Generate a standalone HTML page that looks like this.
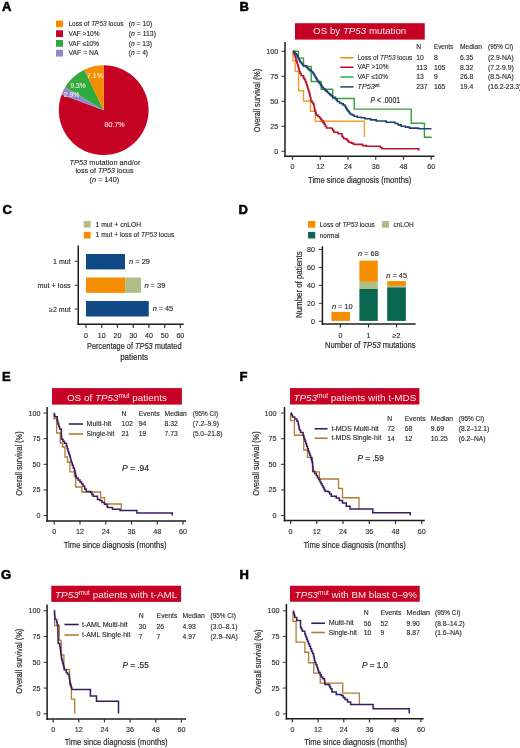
<!DOCTYPE html>
<html><head><meta charset="utf-8"><style>
html,body{margin:0;padding:0;background:#fff;}
svg{display:block;font-family:"Liberation Sans",sans-serif;will-change:transform;}

</style></head><body>
<svg width="520" height="748" viewBox="0 0 520 748" fill="#2b2b2b">
<rect width="520" height="748" fill="#fff"/>
<text x="2" y="11" font-size="13.0" fill="#000" stroke="#000" stroke-width="0.55" font-weight="bold">A</text>
<rect x="56" y="20.5" width="7" height="6.8" fill="#f48d00"/>
<text x="68.5" y="26.4" font-size="6.8" stroke="#2b2b2b" stroke-width="0.13" textLength="55" lengthAdjust="spacingAndGlyphs">Loss of <tspan font-style="italic">TP53</tspan> locus</text>
<text x="128.75" y="26.4" font-size="6.8" stroke="#2b2b2b" stroke-width="0.13" textLength="23.4" lengthAdjust="spacingAndGlyphs">(<tspan font-style="italic">n</tspan> = 10)</text>
<rect x="56" y="30.25" width="7" height="6.8" fill="#c60325"/>
<text x="68.5" y="36" font-size="6.8" stroke="#2b2b2b" stroke-width="0.13" textLength="31" lengthAdjust="spacingAndGlyphs">VAF &gt;10%</text>
<text x="128.75" y="36" font-size="6.8" stroke="#2b2b2b" stroke-width="0.13" textLength="27.2" lengthAdjust="spacingAndGlyphs">(<tspan font-style="italic">n</tspan> = 113)</text>
<rect x="56" y="40" width="7" height="6.8" fill="#31a93c"/>
<text x="68.5" y="45.75" font-size="6.8" stroke="#2b2b2b" stroke-width="0.13" textLength="30.5" lengthAdjust="spacingAndGlyphs">VAF ≤10%</text>
<text x="128.75" y="45.75" font-size="6.8" stroke="#2b2b2b" stroke-width="0.13" textLength="23.3" lengthAdjust="spacingAndGlyphs">(<tspan font-style="italic">n</tspan> = 13)</text>
<rect x="56" y="49.75" width="7" height="6.8" fill="#8f8acb"/>
<text x="68.5" y="55.1" font-size="6.8" stroke="#2b2b2b" stroke-width="0.13" textLength="30" lengthAdjust="spacingAndGlyphs">VAF = NA</text>
<text x="128.75" y="55.1" font-size="6.8" stroke="#2b2b2b" stroke-width="0.13" textLength="19.3" lengthAdjust="spacingAndGlyphs">(<tspan font-style="italic">n</tspan> = 4)</text>
<path d="M103.7,110.2 L103.70,65.30 A44.9,44.9 0 1 1 61.65,94.46 Z" fill="#c60325"/>
<path d="M103.7,110.2 L61.65,94.46 A44.9,44.9 0 0 1 65.20,87.10 Z" fill="#8f8acb"/>
<path d="M103.7,110.2 L65.20,87.10 A44.9,44.9 0 0 1 84.33,69.69 Z" fill="#31a93c"/>
<path d="M103.7,110.2 L84.33,69.69 A44.9,44.9 0 0 1 103.70,65.30 Z" fill="#f48d00"/>
<text x="86.9" y="77.5" font-size="7" fill="#fbe7c0" stroke="#fbe7c0" stroke-width="0.13" textLength="16" lengthAdjust="spacingAndGlyphs">7.1%</text>
<text x="70.6" y="87.75" font-size="7" fill="#e3f2d5" stroke="#e3f2d5" stroke-width="0.13" textLength="15" lengthAdjust="spacingAndGlyphs">9.3%</text>
<text x="63.75" y="97.25" font-size="7" fill="#ece8f6" stroke="#ece8f6" stroke-width="0.13" textLength="15.6" lengthAdjust="spacingAndGlyphs">2.9%</text>
<text x="104.6" y="127" font-size="7" fill="#fbd9dd" stroke="#fbd9dd" stroke-width="0.13" textLength="20" lengthAdjust="spacingAndGlyphs">80.7%</text>
<text x="105" y="164.5" font-size="7.3" text-anchor="middle" stroke="#2b2b2b" stroke-width="0.13" textLength="70.8" lengthAdjust="spacingAndGlyphs"><tspan font-style="italic">TP53</tspan> mutation and/or</text>
<text x="104.5" y="173.3" font-size="7.3" text-anchor="middle" stroke="#2b2b2b" stroke-width="0.13" textLength="58" lengthAdjust="spacingAndGlyphs">loss of <tspan font-style="italic">TP53</tspan> locus</text>
<text x="104.4" y="181.8" font-size="7.3" text-anchor="middle" stroke="#2b2b2b" stroke-width="0.13" textLength="29.6" lengthAdjust="spacingAndGlyphs">(<tspan font-style="italic">n</tspan> = 140)</text>
<text x="239.4" y="11" font-size="13.0" fill="#000" stroke="#000" stroke-width="0.55" font-weight="bold">B</text>
<rect x="295" y="23.2" width="129.75" height="16.4" fill="#c60325"/>
<text x="313.1" y="34.3" font-size="9.8" fill="#fbeaec" textLength="93.2" lengthAdjust="spacingAndGlyphs">OS by <tspan font-style="italic">TP53</tspan> mutation</text>
<line x1="285" y1="41.9" x2="285" y2="157.0" stroke="#1c1c1c" stroke-width="1.5"/>
<line x1="281.4" y1="51.25" x2="285" y2="51.25" stroke="#1c1c1c" stroke-width="0.9"/>
<text x="278.3" y="53.75" font-size="7.2" text-anchor="end" stroke="#2b2b2b" stroke-width="0.13">100</text>
<line x1="281.4" y1="76.25" x2="285" y2="76.25" stroke="#1c1c1c" stroke-width="0.9"/>
<text x="278.3" y="78.75" font-size="7.2" text-anchor="end" stroke="#2b2b2b" stroke-width="0.13">75</text>
<line x1="281.4" y1="101.25" x2="285" y2="101.25" stroke="#1c1c1c" stroke-width="0.9"/>
<text x="278.3" y="103.75" font-size="7.2" text-anchor="end" stroke="#2b2b2b" stroke-width="0.13">50</text>
<line x1="281.4" y1="126.25" x2="285" y2="126.25" stroke="#1c1c1c" stroke-width="0.9"/>
<text x="278.3" y="128.75" font-size="7.2" text-anchor="end" stroke="#2b2b2b" stroke-width="0.13">25</text>
<line x1="281.4" y1="151.25" x2="285" y2="151.25" stroke="#1c1c1c" stroke-width="0.9"/>
<text x="278.3" y="153.75" font-size="7.2" text-anchor="end" stroke="#2b2b2b" stroke-width="0.13">0</text>
<line x1="284.25" y1="156.25" x2="434.4" y2="156.25" stroke="#1c1c1c" stroke-width="1.5"/>
<line x1="292.5" y1="156.25" x2="292.5" y2="159.75" stroke="#333" stroke-width="1.2"/>
<text x="292.5" y="169.4" font-size="7.2" text-anchor="middle" stroke="#2b2b2b" stroke-width="0.13">0</text>
<line x1="320.25" y1="156.25" x2="320.25" y2="159.75" stroke="#333" stroke-width="1.2"/>
<text x="320.25" y="169.4" font-size="7.2" text-anchor="middle" stroke="#2b2b2b" stroke-width="0.13">12</text>
<line x1="348.0" y1="156.25" x2="348.0" y2="159.75" stroke="#333" stroke-width="1.2"/>
<text x="348.0" y="169.4" font-size="7.2" text-anchor="middle" stroke="#2b2b2b" stroke-width="0.13">24</text>
<line x1="375.75" y1="156.25" x2="375.75" y2="159.75" stroke="#333" stroke-width="1.2"/>
<text x="375.75" y="169.4" font-size="7.2" text-anchor="middle" stroke="#2b2b2b" stroke-width="0.13">36</text>
<line x1="403.5" y1="156.25" x2="403.5" y2="159.75" stroke="#333" stroke-width="1.2"/>
<text x="403.5" y="169.4" font-size="7.2" text-anchor="middle" stroke="#2b2b2b" stroke-width="0.13">48</text>
<line x1="431.25" y1="156.25" x2="431.25" y2="159.75" stroke="#333" stroke-width="1.2"/>
<text x="431.25" y="169.4" font-size="7.2" text-anchor="middle" stroke="#2b2b2b" stroke-width="0.13">60</text>
<text x="308" y="182.7" font-size="9.4" stroke="#2b2b2b" stroke-width="0.2" textLength="103.3" lengthAdjust="spacingAndGlyphs">Time since diagnosis (months)</text>
<text x="0" y="0" font-size="9.4" stroke="#2b2b2b" stroke-width="0.2" text-anchor="middle" textLength="63.5" lengthAdjust="spacingAndGlyphs" transform="translate(260.2,100.45) rotate(-90)">Overall survival (%)</text>
<line x1="340.25" y1="57.75" x2="353.5" y2="57.75" stroke="#f48d00" stroke-width="1.5"/>
<text x="357.5" y="59.85" font-size="6.8" stroke="#2b2b2b" stroke-width="0.13" textLength="54.8" lengthAdjust="spacingAndGlyphs">Loss of <tspan font-style="italic">TP53</tspan> locus</text>
<line x1="340.25" y1="67.25" x2="353.5" y2="67.25" stroke="#c60325" stroke-width="1.5"/>
<text x="357.5" y="69.35" font-size="6.8" stroke="#2b2b2b" stroke-width="0.13" textLength="31" lengthAdjust="spacingAndGlyphs">VAF &gt;10%</text>
<line x1="340.25" y1="77" x2="353.5" y2="77" stroke="#31a93c" stroke-width="1.5"/>
<text x="357.5" y="79.1" font-size="6.8" stroke="#2b2b2b" stroke-width="0.13" textLength="30.5" lengthAdjust="spacingAndGlyphs">VAF ≤10%</text>
<line x1="340.25" y1="86.9" x2="353.5" y2="86.9" stroke="#1c4270" stroke-width="1.5"/>
<text x="357.5" y="89.0" font-size="6.8" stroke="#2b2b2b" stroke-width="0.13" textLength="22" lengthAdjust="spacingAndGlyphs"><tspan font-style="italic">TP53</tspan><tspan font-size="4.5" dy="-2.5">wt</tspan></text>
<text x="416.25" y="49.25" font-size="6.8" stroke="#2b2b2b" stroke-width="0.13" textLength="4.8" lengthAdjust="spacingAndGlyphs">N</text>
<text x="434" y="49.25" font-size="6.8" stroke="#2b2b2b" stroke-width="0.13" textLength="19.1" lengthAdjust="spacingAndGlyphs">Events</text>
<text x="460" y="49.25" font-size="6.8" stroke="#2b2b2b" stroke-width="0.13" textLength="21.9" lengthAdjust="spacingAndGlyphs">Median</text>
<text x="488.1" y="49.25" font-size="6.8" stroke="#2b2b2b" stroke-width="0.13" textLength="25" lengthAdjust="spacingAndGlyphs">(95% CI)</text>
<text x="416.25" y="59.9" font-size="6.8" stroke="#2b2b2b" stroke-width="0.13">10</text>
<text x="434" y="59.9" font-size="6.8" stroke="#2b2b2b" stroke-width="0.13">8</text>
<text x="460" y="59.9" font-size="6.8" stroke="#2b2b2b" stroke-width="0.13">6.35</text>
<text x="488.1" y="59.9" font-size="6.8" stroke="#2b2b2b" stroke-width="0.13">(2.9-NA)</text>
<text x="416.25" y="69.7" font-size="6.8" stroke="#2b2b2b" stroke-width="0.13">113</text>
<text x="434" y="69.7" font-size="6.8" stroke="#2b2b2b" stroke-width="0.13">105</text>
<text x="460" y="69.7" font-size="6.8" stroke="#2b2b2b" stroke-width="0.13">8.32</text>
<text x="488.1" y="69.7" font-size="6.8" stroke="#2b2b2b" stroke-width="0.13">(7.2-9.9)</text>
<text x="416.25" y="79.4" font-size="6.8" stroke="#2b2b2b" stroke-width="0.13">13</text>
<text x="434" y="79.4" font-size="6.8" stroke="#2b2b2b" stroke-width="0.13">9</text>
<text x="460" y="79.4" font-size="6.8" stroke="#2b2b2b" stroke-width="0.13">26.8</text>
<text x="488.1" y="79.4" font-size="6.8" stroke="#2b2b2b" stroke-width="0.13">(8.5-NA)</text>
<text x="416.25" y="89" font-size="6.8" stroke="#2b2b2b" stroke-width="0.13">237</text>
<text x="434" y="89" font-size="6.8" stroke="#2b2b2b" stroke-width="0.13">165</text>
<text x="460" y="89" font-size="6.8" stroke="#2b2b2b" stroke-width="0.13">19.4</text>
<text x="488.1" y="89" font-size="6.8" stroke="#2b2b2b" stroke-width="0.13">(16.2-23.3)</text>
<text x="370.6" y="102.75" font-size="8.9" stroke="#2b2b2b" stroke-width="0.2" textLength="29.4" lengthAdjust="spacingAndGlyphs"><tspan font-style="italic">P</tspan> &lt; .0001</text>
<path d="M292.9,51.25 V60.8 H295.2 V71.2 H298.6 V90.7 H303.5 V101 H310.4 V111.3 H315.3 V121.2 H364.4 V136.9" fill="none" stroke="#efa02c" stroke-width="1.4" stroke-linejoin="miter" />
<path d="M292.9,51.25 H298.5 V58.1 H303.5 V66.5 H311.2 V81.5 H321.2 V89.2 H332.7 V98.5 H354.2 V109.1 H411.25 V123.2 H424.4 V137.3 H431.7" fill="none" stroke="#3a9d3c" stroke-width="1.4" stroke-linejoin="miter" />
<path d="M292.9,51.25 H293.60 V53.00 H294.30 V54.75 H295.00 V56.50 H295.50 V58.17 H296.00 V59.83 H296.50 V61.50 H297.00 V63.17 H297.50 V64.83 H298.00 V66.50 H298.50 V68.25 H299.00 V70.00 H299.50 V71.75 H300.00 V73.50 H301.20 V75.80 H303.50 V78.10 H304.45 V79.80 H305.40 V81.50 H306.03 V83.30 H306.67 V85.10 H307.30 V86.90 H307.80 V88.50 H308.30 V90.10 H308.80 V91.70 H309.30 V93.30 H309.80 V94.90 H310.10 V96.35 H310.40 V97.80 H310.70 V99.25 H311.00 V100.70 H311.93 V102.23 H312.87 V103.77 H313.80 V105.30 H314.10 V106.75 H314.40 V108.20 H314.70 V109.65 H315.00 V111.10 H315.60 V113.10 H316.20 V115.10 H317.90 V116.55 H319.60 V118.00 H320.77 V119.53 H321.93 V121.07 H323.10 V122.60 H324.23 V124.40 H325.37 V126.20 H326.50 V128.00 H331.50 V128.50 H332.65 V130.40 H333.80 V132.30 H338.00 V133.80 H342.00 V136.20 H342.90 V137.50 H343.80 V138.80 H346.50 V139.60 H347.65 V140.95 H348.80 V142.30 H351.25 V143.10 H353.50 V144.20 H355.00 V144.40 H362.50 V145.60 H366.25 V146.25 L378.75,146.25 H380.32 V147.50 H381.90 V148.75 L418.75,148.75 L418.75,150.6" fill="none" stroke="#b8142f" stroke-width="1.6" stroke-linejoin="miter" />
<path d="M292.9,51.25 H294.10 V52.50 H295.30 V53.75 H296.50 V55.00 H297.15 V56.22 H297.80 V57.43 H298.45 V58.65 H299.10 V59.87 H299.75 V61.08 H300.40 V62.30 H301.43 V63.47 H302.47 V64.63 H303.50 V65.80 H306.50 V67.30 H307.53 V68.33 H308.57 V69.37 H309.60 V70.40 H311.15 V71.55 H312.70 V72.70 H313.48 V74.05 H314.25 V75.40 H315.02 V76.75 H315.80 V78.10 H316.53 V79.23 H317.27 V80.37 H318.00 V81.50 H318.80 V82.53 H319.60 V83.57 H320.40 V84.60 H321.17 V85.65 H321.95 V86.70 H322.73 V87.75 H323.50 V88.80 H324.77 V89.97 H326.03 V91.13 H327.30 V92.30 H328.45 V93.45 H329.60 V94.60 H331.15 V95.95 H332.70 V97.30 H335.40 V98.80 H336.35 V100.15 H337.30 V101.50 H339.60 V103.00 H341.50 V103.80 H343.25 V105.15 H345.00 V106.50 H345.77 V107.80 H346.53 V109.10 H347.30 V110.40 H348.33 V111.67 H349.37 V112.93 H350.40 V114.20 H352.30 V115.20 H354.20 V116.20 H357.30 V117.30 H361.20 V117.70 H365.00 V118.80 H370.62 V119.90 H376.25 V121.00 H386.25 V122.25 H395.00 V123.50 H398.12 V124.88 H401.25 V126.25 H405.43 V127.17 H409.60 V128.10 L417.1,128.1 H418.30 V128.70 L431.5,128.7" fill="none" stroke="#1c4270" stroke-width="1.6" stroke-linejoin="miter" />
<text x="2.5" y="214" font-size="13.0" fill="#000" stroke="#000" stroke-width="0.55" font-weight="bold">C</text>
<rect x="83.75" y="221" width="6.9" height="6.6" fill="#adbe86"/>
<rect x="83.75" y="231.9" width="6.9" height="6.6" fill="#f48d00"/>
<text x="95.6" y="226.6" font-size="6.8" stroke="#2b2b2b" stroke-width="0.13" textLength="45.6" lengthAdjust="spacingAndGlyphs">1 mut + cnLOH</text>
<text x="95.6" y="237.2" font-size="6.8" stroke="#2b2b2b" stroke-width="0.13" textLength="78.8" lengthAdjust="spacingAndGlyphs">1 mut + loss of <tspan font-style="italic">TP53</tspan> locus</text>
<line x1="78.25" y1="245.6" x2="78.25" y2="324.95" stroke="#1c1c1c" stroke-width="1.5"/>
<line x1="74.6" y1="261.25" x2="78.1" y2="261.25" stroke="#1c1c1c" stroke-width="0.9"/>
<text x="70.6" y="263.75" font-size="6.8" text-anchor="end" stroke="#2b2b2b" stroke-width="0.13" textLength="17.5" lengthAdjust="spacingAndGlyphs">1 mut</text>
<line x1="74.6" y1="285.25" x2="78.1" y2="285.25" stroke="#1c1c1c" stroke-width="0.9"/>
<text x="70.6" y="287.75" font-size="6.8" text-anchor="end" stroke="#2b2b2b" stroke-width="0.13" textLength="33" lengthAdjust="spacingAndGlyphs">mut + loss</text>
<line x1="74.6" y1="309" x2="78.1" y2="309" stroke="#1c1c1c" stroke-width="0.9"/>
<text x="70.6" y="311.5" font-size="6.8" text-anchor="end" stroke="#2b2b2b" stroke-width="0.13" textLength="21.5" lengthAdjust="spacingAndGlyphs">≥2 mut</text>
<rect x="86" y="254" width="39" height="15.4" fill="#0f4a86"/>
<rect x="86" y="277.5" width="39.6" height="15.3" fill="#f48d00"/>
<rect x="125.6" y="277.5" width="15.4" height="15.3" fill="#adbe86"/>
<rect x="86" y="301" width="62.75" height="15.5" fill="#0f4a86"/>
<text x="129" y="263.75" font-size="6.8" stroke="#2b2b2b" stroke-width="0.13" textLength="21" lengthAdjust="spacingAndGlyphs"><tspan font-style="italic">n</tspan> = 29</text>
<text x="144.4" y="287.6" font-size="6.8" stroke="#2b2b2b" stroke-width="0.13" textLength="21" lengthAdjust="spacingAndGlyphs"><tspan font-style="italic">n</tspan> = 39</text>
<text x="152.75" y="311.1" font-size="6.8" stroke="#2b2b2b" stroke-width="0.13" textLength="20.4" lengthAdjust="spacingAndGlyphs"><tspan font-style="italic">n</tspan> = 45</text>
<line x1="77.5" y1="324.2" x2="183.75" y2="324.2" stroke="#1c1c1c" stroke-width="1.5"/>
<line x1="86.0" y1="324.4" x2="86.0" y2="327.9" stroke="#333" stroke-width="1.2"/>
<text x="86.0" y="337.5" font-size="7.1" text-anchor="middle" stroke="#2b2b2b" stroke-width="0.13">0</text>
<line x1="101.73" y1="324.4" x2="101.73" y2="327.9" stroke="#333" stroke-width="1.2"/>
<text x="101.73" y="337.5" font-size="7.1" text-anchor="middle" stroke="#2b2b2b" stroke-width="0.13">10</text>
<line x1="117.46000000000001" y1="324.4" x2="117.46000000000001" y2="327.9" stroke="#333" stroke-width="1.2"/>
<text x="117.46000000000001" y="337.5" font-size="7.1" text-anchor="middle" stroke="#2b2b2b" stroke-width="0.13">20</text>
<line x1="133.19" y1="324.4" x2="133.19" y2="327.9" stroke="#333" stroke-width="1.2"/>
<text x="133.19" y="337.5" font-size="7.1" text-anchor="middle" stroke="#2b2b2b" stroke-width="0.13">30</text>
<line x1="148.92000000000002" y1="324.4" x2="148.92000000000002" y2="327.9" stroke="#333" stroke-width="1.2"/>
<text x="148.92000000000002" y="337.5" font-size="7.1" text-anchor="middle" stroke="#2b2b2b" stroke-width="0.13">40</text>
<line x1="164.65" y1="324.4" x2="164.65" y2="327.9" stroke="#333" stroke-width="1.2"/>
<text x="164.65" y="337.5" font-size="7.1" text-anchor="middle" stroke="#2b2b2b" stroke-width="0.13">50</text>
<line x1="180.38" y1="324.4" x2="180.38" y2="327.9" stroke="#333" stroke-width="1.2"/>
<text x="180.38" y="337.5" font-size="7.1" text-anchor="middle" stroke="#2b2b2b" stroke-width="0.13">60</text>
<text x="87" y="348.8" font-size="9.5" stroke="#2b2b2b" stroke-width="0.2" textLength="94.5" lengthAdjust="spacingAndGlyphs">Percentage of <tspan font-style="italic">TP53</tspan> mutated</text>
<text x="120.2" y="360.2" font-size="9.5" stroke="#2b2b2b" stroke-width="0.2" textLength="27.9" lengthAdjust="spacingAndGlyphs">patients</text>
<text x="238.4" y="214" font-size="13.0" fill="#000" stroke="#000" stroke-width="0.55" font-weight="bold">D</text>
<rect x="308.1" y="221" width="7.1" height="6.7" fill="#f48d00"/>
<rect x="308.1" y="231.9" width="7.1" height="6.6" fill="#0b6650"/>
<rect x="381.9" y="221" width="7.1" height="6.7" fill="#adbe86"/>
<text x="319.75" y="226.9" font-size="6.8" stroke="#2b2b2b" stroke-width="0.13" textLength="55" lengthAdjust="spacingAndGlyphs">Loss of <tspan font-style="italic">TP53</tspan> locus</text>
<text x="319.75" y="237.5" font-size="6.8" stroke="#2b2b2b" stroke-width="0.13" textLength="19.7" lengthAdjust="spacingAndGlyphs">normal</text>
<text x="393.5" y="226.9" font-size="6.8" stroke="#2b2b2b" stroke-width="0.13" textLength="20.2" lengthAdjust="spacingAndGlyphs">cnLOH</text>
<line x1="322.4" y1="246.25" x2="322.4" y2="324.75" stroke="#1c1c1c" stroke-width="1.5"/>
<line x1="318.8" y1="321.25" x2="322.4" y2="321.25" stroke="#1c1c1c" stroke-width="0.9"/>
<text x="314.9" y="323.75" font-size="7.1" text-anchor="end" stroke="#2b2b2b" stroke-width="0.13">0</text>
<line x1="318.8" y1="303.3" x2="322.4" y2="303.3" stroke="#1c1c1c" stroke-width="0.9"/>
<text x="314.9" y="305.8" font-size="7.1" text-anchor="end" stroke="#2b2b2b" stroke-width="0.13">20</text>
<line x1="318.8" y1="285.35" x2="322.4" y2="285.35" stroke="#1c1c1c" stroke-width="0.9"/>
<text x="314.9" y="287.85" font-size="7.1" text-anchor="end" stroke="#2b2b2b" stroke-width="0.13">40</text>
<line x1="318.8" y1="267.4" x2="322.4" y2="267.4" stroke="#1c1c1c" stroke-width="0.9"/>
<text x="314.9" y="269.9" font-size="7.1" text-anchor="end" stroke="#2b2b2b" stroke-width="0.13">60</text>
<line x1="318.8" y1="249.45" x2="322.4" y2="249.45" stroke="#1c1c1c" stroke-width="0.9"/>
<text x="314.9" y="251.95" font-size="7.1" text-anchor="end" stroke="#2b2b2b" stroke-width="0.13">80</text>
<text x="0" y="0" font-size="9.4" stroke="#2b2b2b" stroke-width="0.2" text-anchor="middle" textLength="66.6" lengthAdjust="spacingAndGlyphs" transform="translate(302.2,284.7) rotate(-90)">Number of patients</text>
<rect x="331.5" y="311.9" width="18.5" height="9.0" fill="#f48d00"/>
<rect x="359.4" y="260.6" width="18.35" height="21.3" fill="#f48d00"/>
<rect x="359.4" y="281.9" width="18.35" height="7.1" fill="#adbe86"/>
<rect x="359.4" y="289" width="18.35" height="31.9" fill="#0b6650"/>
<rect x="387.2" y="281.1" width="18.65" height="4.8" fill="#f48d00"/>
<rect x="387.2" y="285.9" width="18.65" height="1.5" fill="#adbe86"/>
<rect x="387.2" y="287.4" width="18.65" height="33.5" fill="#0b6650"/>
<text x="331.9" y="308.75" font-size="6.8" stroke="#2b2b2b" stroke-width="0.13" textLength="20.85" lengthAdjust="spacingAndGlyphs"><tspan font-style="italic">n</tspan> = 10</text>
<text x="358.1" y="256.25" font-size="6.8" stroke="#2b2b2b" stroke-width="0.13" textLength="20.65" lengthAdjust="spacingAndGlyphs"><tspan font-style="italic">n</tspan> = 68</text>
<text x="386.25" y="278.1" font-size="6.8" stroke="#2b2b2b" stroke-width="0.13" textLength="20.85" lengthAdjust="spacingAndGlyphs"><tspan font-style="italic">n</tspan> = 45</text>
<line x1="321.65" y1="324.0" x2="415.6" y2="324.0" stroke="#1c1c1c" stroke-width="1.5"/>
<line x1="340.4" y1="324" x2="340.4" y2="327.5" stroke="#333" stroke-width="1.2"/>
<text x="340.4" y="337.6" font-size="7.1" text-anchor="middle" stroke="#2b2b2b" stroke-width="0.13">0</text>
<line x1="368.5" y1="324" x2="368.5" y2="327.5" stroke="#333" stroke-width="1.2"/>
<text x="368.5" y="337.6" font-size="7.1" text-anchor="middle" stroke="#2b2b2b" stroke-width="0.13">1</text>
<line x1="396.5" y1="324" x2="396.5" y2="327.5" stroke="#333" stroke-width="1.2"/>
<text x="396.5" y="337.6" font-size="7.1" text-anchor="middle" stroke="#2b2b2b" stroke-width="0.13">≥2</text>
<text x="325" y="348.1" font-size="9.4" stroke="#2b2b2b" stroke-width="0.2" textLength="90.6" lengthAdjust="spacingAndGlyphs">Number of <tspan font-style="italic">TP53</tspan> mutations</text>
<text x="2.1" y="381" font-size="13.0" fill="#000" stroke="#000" stroke-width="0.55" font-weight="bold">E</text>
<rect x="52" y="388.1" width="129.9" height="16.5" fill="#c60325"/>
<text x="66.9" y="400.5" font-size="9.8" fill="#fbeaec" textLength="100" lengthAdjust="spacingAndGlyphs">OS of <tspan font-style="italic">TP53</tspan><tspan font-size="6.5" dy="-3.0">mut</tspan><tspan dy="3.0"> </tspan>patients</text>
<line x1="47.1" y1="407" x2="47.1" y2="521.75" stroke="#1c1c1c" stroke-width="1.5"/>
<line x1="43.5" y1="413.04" x2="47.1" y2="413.04" stroke="#1c1c1c" stroke-width="0.9"/>
<text x="40.4" y="415.54" font-size="7.2" text-anchor="end" stroke="#2b2b2b" stroke-width="0.13">100</text>
<line x1="43.5" y1="438.68" x2="47.1" y2="438.68" stroke="#1c1c1c" stroke-width="0.9"/>
<text x="40.4" y="441.18" font-size="7.2" text-anchor="end" stroke="#2b2b2b" stroke-width="0.13">75</text>
<line x1="43.5" y1="464.32000000000005" x2="47.1" y2="464.32000000000005" stroke="#1c1c1c" stroke-width="0.9"/>
<text x="40.4" y="466.82000000000005" font-size="7.2" text-anchor="end" stroke="#2b2b2b" stroke-width="0.13">50</text>
<line x1="43.5" y1="489.96000000000004" x2="47.1" y2="489.96000000000004" stroke="#1c1c1c" stroke-width="0.9"/>
<text x="40.4" y="492.46000000000004" font-size="7.2" text-anchor="end" stroke="#2b2b2b" stroke-width="0.13">25</text>
<line x1="43.5" y1="515.6" x2="47.1" y2="515.6" stroke="#1c1c1c" stroke-width="0.9"/>
<text x="40.4" y="518.1" font-size="7.2" text-anchor="end" stroke="#2b2b2b" stroke-width="0.13">0</text>
<line x1="46.35" y1="521" x2="186.1" y2="521" stroke="#1c1c1c" stroke-width="1.5"/>
<line x1="54.25" y1="521" x2="54.25" y2="524.5" stroke="#333" stroke-width="1.2"/>
<text x="54.25" y="534.3" font-size="7.2" text-anchor="middle" stroke="#2b2b2b" stroke-width="0.13">0</text>
<line x1="80.0" y1="521" x2="80.0" y2="524.5" stroke="#333" stroke-width="1.2"/>
<text x="80.0" y="534.3" font-size="7.2" text-anchor="middle" stroke="#2b2b2b" stroke-width="0.13">12</text>
<line x1="105.75" y1="521" x2="105.75" y2="524.5" stroke="#333" stroke-width="1.2"/>
<text x="105.75" y="534.3" font-size="7.2" text-anchor="middle" stroke="#2b2b2b" stroke-width="0.13">24</text>
<line x1="131.5" y1="521" x2="131.5" y2="524.5" stroke="#333" stroke-width="1.2"/>
<text x="131.5" y="534.3" font-size="7.2" text-anchor="middle" stroke="#2b2b2b" stroke-width="0.13">36</text>
<line x1="157.25" y1="521" x2="157.25" y2="524.5" stroke="#333" stroke-width="1.2"/>
<text x="157.25" y="534.3" font-size="7.2" text-anchor="middle" stroke="#2b2b2b" stroke-width="0.13">48</text>
<line x1="183.0" y1="521" x2="183.0" y2="524.5" stroke="#333" stroke-width="1.2"/>
<text x="183.0" y="534.3" font-size="7.2" text-anchor="middle" stroke="#2b2b2b" stroke-width="0.13">60</text>
<text x="63.75" y="548.1" font-size="9.4" stroke="#2b2b2b" stroke-width="0.2" textLength="102.9" lengthAdjust="spacingAndGlyphs">Time since diagnosis (months)</text>
<text x="0" y="0" font-size="9.4" stroke="#2b2b2b" stroke-width="0.2" text-anchor="middle" textLength="64.3" lengthAdjust="spacingAndGlyphs" transform="translate(22.4,463.5) rotate(-90)">Overall survival (%)</text>
<line x1="68.75" y1="424" x2="83.1" y2="424" stroke="#3b1d5e" stroke-width="1.6"/>
<text x="86.5" y="426.1" font-size="6.8" stroke="#2b2b2b" stroke-width="0.13" textLength="24.8" lengthAdjust="spacingAndGlyphs">Multi-hit</text>
<line x1="68.75" y1="434" x2="83.1" y2="434" stroke="#b27c32" stroke-width="1.6"/>
<text x="86.5" y="436.1" font-size="6.8" stroke="#2b2b2b" stroke-width="0.13" textLength="27.9" lengthAdjust="spacingAndGlyphs">Single-hit</text>
<text x="121.5" y="416.2" font-size="6.8" stroke="#2b2b2b" stroke-width="0.13">N</text>
<text x="138.8" y="416.2" font-size="6.8" stroke="#2b2b2b" stroke-width="0.13">Events</text>
<text x="164.5" y="416.2" font-size="6.8" stroke="#2b2b2b" stroke-width="0.13">Median</text>
<text x="192.75" y="416.2" font-size="6.8" stroke="#2b2b2b" stroke-width="0.13" textLength="25.4" lengthAdjust="spacingAndGlyphs">(95% CI)</text>
<text x="121.5" y="426.2" font-size="6.8" stroke="#2b2b2b" stroke-width="0.13">102</text>
<text x="138.8" y="426.2" font-size="6.8" stroke="#2b2b2b" stroke-width="0.13">94</text>
<text x="164.5" y="426.2" font-size="6.8" stroke="#2b2b2b" stroke-width="0.13">8.32</text>
<text x="192.75" y="426.2" font-size="6.8" stroke="#2b2b2b" stroke-width="0.13" textLength="26.2" lengthAdjust="spacingAndGlyphs">(7.2–9.9)</text>
<text x="121.5" y="436.1" font-size="6.8" stroke="#2b2b2b" stroke-width="0.13">21</text>
<text x="138.8" y="436.1" font-size="6.8" stroke="#2b2b2b" stroke-width="0.13">19</text>
<text x="164.5" y="436.1" font-size="6.8" stroke="#2b2b2b" stroke-width="0.13">7.73</text>
<text x="192.75" y="436.1" font-size="6.8" stroke="#2b2b2b" stroke-width="0.13" textLength="29.6" lengthAdjust="spacingAndGlyphs">(5.0–21.8)</text>
<text x="121.9" y="470.6" font-size="8.9" stroke="#2b2b2b" stroke-width="0.2" textLength="27.1" lengthAdjust="spacingAndGlyphs"><tspan font-style="italic">P</tspan> = .94</text>
<path d="M53.9,413.4 V418.5 H56.7 V433 H60.3 V443 H62.5 V447 H65 V457 H67.5 V462 H69.9 V471.9 H74.4 V476.5 H75.7 V487 H81.9 V492 H100.6 V497.6 H104.5 V504 H121.3 V510" fill="none" stroke="#b27c32" stroke-width="1.3" stroke-linejoin="miter" />
<path d="M54,413.4 H54.40 V415.10 H54.80 V416.80 H57.20 V420.00 H57.60 V422.00 H58.00 V424.00 H58.80 V426.45 H59.60 V428.90 H61.20 V432.00 H61.33 V434.43 H61.47 V436.87 H61.60 V439.30 H63.00 V441.30 H64.40 V443.30 H66.40 V446.10 H67.20 V448.70 H68.00 V451.30 H68.67 V453.17 H69.33 V455.03 H70.00 V456.90 H70.42 V458.77 H70.83 V460.63 H71.25 V462.50 H72.25 V465.25 H73.25 V468.00 H74.40 V470.00 H74.86 V472.02 H75.33 V474.05 H75.79 V476.08 H76.25 V478.10 H78.12 V480.00 H80.00 V481.90 H81.55 V484.07 H83.10 V486.25 H84.67 V488.88 H86.25 V491.50 H90.60 V492.50 H91.85 V494.38 H93.10 V496.25 H97.50 V499.40 H100.00 V500.50 H102.00 V502.50 H104.50 V504.25 H107.00 V506.00 H107.50 V507.50 L111.5,507.5 H112.50 V509.25 L118.5,509.25 H120.00 V510.40 L133.75,510.4 H136.90 V513.10 L172.25,513.1 L172.25,515.6" fill="none" stroke="#3b1d5e" stroke-width="1.5" stroke-linejoin="miter" />
<text x="239.4" y="381" font-size="13.0" fill="#000" stroke="#000" stroke-width="0.55" font-weight="bold">F</text>
<rect x="290" y="388.1" width="129.4" height="16.4" fill="#c60325"/>
<text x="293.5" y="400.5" font-size="9.8" fill="#fbeaec" textLength="122.75" lengthAdjust="spacingAndGlyphs"><tspan font-style="italic">TP53</tspan><tspan font-size="6.5" dy="-3.0">mut</tspan><tspan dy="3.0"> </tspan>patients with t-MDS</text>
<line x1="284.5" y1="407" x2="284.5" y2="521.35" stroke="#1c1c1c" stroke-width="1.5"/>
<line x1="280.9" y1="413.04" x2="284.5" y2="413.04" stroke="#1c1c1c" stroke-width="0.9"/>
<text x="276.6" y="415.54" font-size="7.2" text-anchor="end" stroke="#2b2b2b" stroke-width="0.13">100</text>
<line x1="280.9" y1="438.68" x2="284.5" y2="438.68" stroke="#1c1c1c" stroke-width="0.9"/>
<text x="276.6" y="441.18" font-size="7.2" text-anchor="end" stroke="#2b2b2b" stroke-width="0.13">75</text>
<line x1="280.9" y1="464.32000000000005" x2="284.5" y2="464.32000000000005" stroke="#1c1c1c" stroke-width="0.9"/>
<text x="276.6" y="466.82000000000005" font-size="7.2" text-anchor="end" stroke="#2b2b2b" stroke-width="0.13">50</text>
<line x1="280.9" y1="489.96000000000004" x2="284.5" y2="489.96000000000004" stroke="#1c1c1c" stroke-width="0.9"/>
<text x="276.6" y="492.46000000000004" font-size="7.2" text-anchor="end" stroke="#2b2b2b" stroke-width="0.13">25</text>
<line x1="280.9" y1="515.6" x2="284.5" y2="515.6" stroke="#1c1c1c" stroke-width="0.9"/>
<text x="276.6" y="518.1" font-size="7.2" text-anchor="end" stroke="#2b2b2b" stroke-width="0.13">0</text>
<line x1="283.75" y1="520.6" x2="424.85" y2="520.6" stroke="#1c1c1c" stroke-width="1.5"/>
<line x1="290.6" y1="520.6" x2="290.6" y2="524.1" stroke="#333" stroke-width="1.2"/>
<text x="290.6" y="534.3" font-size="7.2" text-anchor="middle" stroke="#2b2b2b" stroke-width="0.13">0</text>
<line x1="316.83000000000004" y1="520.6" x2="316.83000000000004" y2="524.1" stroke="#333" stroke-width="1.2"/>
<text x="316.83000000000004" y="534.3" font-size="7.2" text-anchor="middle" stroke="#2b2b2b" stroke-width="0.13">12</text>
<line x1="343.06" y1="520.6" x2="343.06" y2="524.1" stroke="#333" stroke-width="1.2"/>
<text x="343.06" y="534.3" font-size="7.2" text-anchor="middle" stroke="#2b2b2b" stroke-width="0.13">24</text>
<line x1="369.29" y1="520.6" x2="369.29" y2="524.1" stroke="#333" stroke-width="1.2"/>
<text x="369.29" y="534.3" font-size="7.2" text-anchor="middle" stroke="#2b2b2b" stroke-width="0.13">36</text>
<line x1="395.52000000000004" y1="520.6" x2="395.52000000000004" y2="524.1" stroke="#333" stroke-width="1.2"/>
<text x="395.52000000000004" y="534.3" font-size="7.2" text-anchor="middle" stroke="#2b2b2b" stroke-width="0.13">48</text>
<line x1="421.75" y1="520.6" x2="421.75" y2="524.1" stroke="#333" stroke-width="1.2"/>
<text x="421.75" y="534.3" font-size="7.2" text-anchor="middle" stroke="#2b2b2b" stroke-width="0.13">60</text>
<text x="303.4" y="548.1" font-size="9.4" stroke="#2b2b2b" stroke-width="0.2" textLength="102.3" lengthAdjust="spacingAndGlyphs">Time since diagnosis (months)</text>
<text x="0" y="0" font-size="9.4" stroke="#2b2b2b" stroke-width="0.2" text-anchor="middle" textLength="64.3" lengthAdjust="spacingAndGlyphs" transform="translate(259.2,463.5) rotate(-90)">Overall survival (%)</text>
<line x1="314.6" y1="428.75" x2="327.6" y2="428.75" stroke="#3b1d5e" stroke-width="1.6"/>
<text x="331.5" y="430.85" font-size="6.8" stroke="#2b2b2b" stroke-width="0.13" textLength="47.3" lengthAdjust="spacingAndGlyphs">t-MDS Multi-hit</text>
<line x1="314.6" y1="438.25" x2="327.6" y2="438.25" stroke="#b27c32" stroke-width="1.6"/>
<text x="331.5" y="440.35" font-size="6.8" stroke="#2b2b2b" stroke-width="0.13" textLength="49.8" lengthAdjust="spacingAndGlyphs">t-MDS Single-hit</text>
<text x="387.25" y="420.5" font-size="6.8" stroke="#2b2b2b" stroke-width="0.13">N</text>
<text x="404.75" y="420.5" font-size="6.8" stroke="#2b2b2b" stroke-width="0.13">Events</text>
<text x="430.75" y="420.5" font-size="6.8" stroke="#2b2b2b" stroke-width="0.13">Median</text>
<text x="458.75" y="420.5" font-size="6.8" stroke="#2b2b2b" stroke-width="0.13" textLength="25.4" lengthAdjust="spacingAndGlyphs">(95% CI)</text>
<text x="387.25" y="431.25" font-size="6.8" stroke="#2b2b2b" stroke-width="0.13">72</text>
<text x="404.75" y="431.25" font-size="6.8" stroke="#2b2b2b" stroke-width="0.13">68</text>
<text x="430.75" y="431.25" font-size="6.8" stroke="#2b2b2b" stroke-width="0.13">9.69</text>
<text x="458.75" y="431.25" font-size="6.8" stroke="#2b2b2b" stroke-width="0.13" textLength="30.4" lengthAdjust="spacingAndGlyphs">(8.2–12.1)</text>
<text x="387.25" y="440.75" font-size="6.8" stroke="#2b2b2b" stroke-width="0.13">14</text>
<text x="404.75" y="440.75" font-size="6.8" stroke="#2b2b2b" stroke-width="0.13">12</text>
<text x="430.75" y="440.75" font-size="6.8" stroke="#2b2b2b" stroke-width="0.13">10.25</text>
<text x="458.75" y="440.75" font-size="6.8" stroke="#2b2b2b" stroke-width="0.13" textLength="26.7" lengthAdjust="spacingAndGlyphs">(6.2–NA)</text>
<text x="357.5" y="460.6" font-size="8.9" stroke="#2b2b2b" stroke-width="0.2" textLength="26.25" lengthAdjust="spacingAndGlyphs"><tspan font-style="italic">P</tspan> = .59</text>
<path d="M290.6,413.1 V420.6 H294.4 V435.25 H303.75 V450 H307.5 V457.4 H312.5 V471.9 H319.4 V479 H338.5 V488.5 H342.5 V497.75 H359 V509" fill="none" stroke="#b27c32" stroke-width="1.3" stroke-linejoin="miter" />
<path d="M290.6,413.1 H291.55 V415.00 H292.50 V416.90 H294.70 V419.07 H296.90 V421.25 H298.10 V423.75 H298.53 V425.83 H298.97 V427.92 H299.40 V430.00 H300.60 V432.50 H303.10 V435.60 H303.73 V437.48 H304.37 V439.37 H305.00 V441.25 H305.83 V443.75 H306.67 V446.25 H307.50 V448.75 H308.27 V450.94 H309.05 V453.12 H309.83 V455.31 H310.60 V457.50 H311.23 V459.58 H311.87 V461.67 H312.50 V463.75 H312.70 V466.25 H312.90 V468.75 H313.10 V471.25 H314.68 V473.43 H316.25 V475.60 H317.50 V477.70 H318.75 V479.80 H320.00 V481.90 H321.03 V483.77 H322.07 V485.63 H323.10 V487.50 H324.05 V489.38 H325.00 V491.25 H328.10 V491.90 H329.68 V494.07 H331.25 V496.25 H336.25 V498.10 H339.38 V500.60 H342.50 V503.10 H346.25 V506.25 H350.00 V509.00 L372.8,509 L372.8,512.7 L410.2,512.7 L410.2,515.5" fill="none" stroke="#3b1d5e" stroke-width="1.5" stroke-linejoin="miter" />
<text x="1" y="578.75" font-size="13.0" fill="#000" stroke="#000" stroke-width="0.55" font-weight="bold">G</text>
<rect x="51.25" y="585.7" width="129.85" height="16.2" fill="#c60325"/>
<text x="55" y="598.1" font-size="9.8" fill="#fbeaec" textLength="122.4" lengthAdjust="spacingAndGlyphs"><tspan font-style="italic">TP53</tspan><tspan font-size="6.5" dy="-3.0">mut</tspan><tspan dy="3.0"> </tspan>patients with t-AML</text>
<line x1="47.1" y1="604.4" x2="47.1" y2="719.65" stroke="#1c1c1c" stroke-width="1.5"/>
<line x1="43.5" y1="610.8" x2="47.1" y2="610.8" stroke="#1c1c1c" stroke-width="0.9"/>
<text x="40.4" y="613.3" font-size="7.2" text-anchor="end" stroke="#2b2b2b" stroke-width="0.13">100</text>
<line x1="43.5" y1="636.55" x2="47.1" y2="636.55" stroke="#1c1c1c" stroke-width="0.9"/>
<text x="40.4" y="639.05" font-size="7.2" text-anchor="end" stroke="#2b2b2b" stroke-width="0.13">75</text>
<line x1="43.5" y1="662.3" x2="47.1" y2="662.3" stroke="#1c1c1c" stroke-width="0.9"/>
<text x="40.4" y="664.8" font-size="7.2" text-anchor="end" stroke="#2b2b2b" stroke-width="0.13">50</text>
<line x1="43.5" y1="688.05" x2="47.1" y2="688.05" stroke="#1c1c1c" stroke-width="0.9"/>
<text x="40.4" y="690.55" font-size="7.2" text-anchor="end" stroke="#2b2b2b" stroke-width="0.13">25</text>
<line x1="43.5" y1="713.8" x2="47.1" y2="713.8" stroke="#1c1c1c" stroke-width="0.9"/>
<text x="40.4" y="716.3" font-size="7.2" text-anchor="end" stroke="#2b2b2b" stroke-width="0.13">0</text>
<line x1="46.35" y1="718.9" x2="186" y2="718.9" stroke="#1c1c1c" stroke-width="1.5"/>
<line x1="53.15" y1="718.9" x2="53.15" y2="722.4" stroke="#333" stroke-width="1.2"/>
<text x="53.15" y="731.7" font-size="7.2" text-anchor="middle" stroke="#2b2b2b" stroke-width="0.13">0</text>
<line x1="78.8" y1="718.9" x2="78.8" y2="722.4" stroke="#333" stroke-width="1.2"/>
<text x="78.8" y="731.7" font-size="7.2" text-anchor="middle" stroke="#2b2b2b" stroke-width="0.13">12</text>
<line x1="104.44999999999999" y1="718.9" x2="104.44999999999999" y2="722.4" stroke="#333" stroke-width="1.2"/>
<text x="104.44999999999999" y="731.7" font-size="7.2" text-anchor="middle" stroke="#2b2b2b" stroke-width="0.13">24</text>
<line x1="130.1" y1="718.9" x2="130.1" y2="722.4" stroke="#333" stroke-width="1.2"/>
<text x="130.1" y="731.7" font-size="7.2" text-anchor="middle" stroke="#2b2b2b" stroke-width="0.13">36</text>
<line x1="155.75" y1="718.9" x2="155.75" y2="722.4" stroke="#333" stroke-width="1.2"/>
<text x="155.75" y="731.7" font-size="7.2" text-anchor="middle" stroke="#2b2b2b" stroke-width="0.13">48</text>
<line x1="181.4" y1="718.9" x2="181.4" y2="722.4" stroke="#333" stroke-width="1.2"/>
<text x="181.4" y="731.7" font-size="7.2" text-anchor="middle" stroke="#2b2b2b" stroke-width="0.13">60</text>
<text x="64.7" y="745.3" font-size="9.4" stroke="#2b2b2b" stroke-width="0.2" textLength="102.9" lengthAdjust="spacingAndGlyphs">Time since diagnosis (months)</text>
<text x="0" y="0" font-size="9.4" stroke="#2b2b2b" stroke-width="0.2" text-anchor="middle" textLength="65" lengthAdjust="spacingAndGlyphs" transform="translate(22.4,661.2) rotate(-90)">Overall survival (%)</text>
<line x1="64.5" y1="624.5" x2="78.75" y2="624.5" stroke="#3b1d5e" stroke-width="1.6"/>
<text x="82" y="626.6" font-size="6.8" stroke="#2b2b2b" stroke-width="0.13" textLength="45.5" lengthAdjust="spacingAndGlyphs">t-AML Multi-hit</text>
<line x1="64.5" y1="635" x2="78.75" y2="635" stroke="#b27c32" stroke-width="1.6"/>
<text x="82" y="637.1" font-size="6.8" stroke="#2b2b2b" stroke-width="0.13" textLength="48.5" lengthAdjust="spacingAndGlyphs">t-AML Single-hit</text>
<text x="138.75" y="618" font-size="6.8" stroke="#2b2b2b" stroke-width="0.13">N</text>
<text x="156.6" y="618" font-size="6.8" stroke="#2b2b2b" stroke-width="0.13">Events</text>
<text x="182.5" y="618" font-size="6.8" stroke="#2b2b2b" stroke-width="0.13">Median</text>
<text x="210.5" y="618" font-size="6.8" stroke="#2b2b2b" stroke-width="0.13" textLength="25.4" lengthAdjust="spacingAndGlyphs">(95% CI)</text>
<text x="138.75" y="628.75" font-size="6.8" stroke="#2b2b2b" stroke-width="0.13">30</text>
<text x="156.6" y="628.75" font-size="6.8" stroke="#2b2b2b" stroke-width="0.13">26</text>
<text x="182.5" y="628.75" font-size="6.8" stroke="#2b2b2b" stroke-width="0.13">4.93</text>
<text x="210.5" y="628.75" font-size="6.8" stroke="#2b2b2b" stroke-width="0.13" textLength="26.9" lengthAdjust="spacingAndGlyphs">(3.0–8.1)</text>
<text x="138.75" y="638.75" font-size="6.8" stroke="#2b2b2b" stroke-width="0.13">7</text>
<text x="156.6" y="638.75" font-size="6.8" stroke="#2b2b2b" stroke-width="0.13">7</text>
<text x="182.5" y="638.75" font-size="6.8" stroke="#2b2b2b" stroke-width="0.13">4.97</text>
<text x="210.5" y="638.75" font-size="6.8" stroke="#2b2b2b" stroke-width="0.13" textLength="27.4" lengthAdjust="spacingAndGlyphs">(2.9–NA)</text>
<text x="122.5" y="668.1" font-size="8.9" stroke="#2b2b2b" stroke-width="0.2" textLength="26.25" lengthAdjust="spacingAndGlyphs"><tspan font-style="italic">P</tspan> = .55</text>
<path d="M54.2,610.8 H54.6 V625.5 H59.3 V640.3 H61.2 V655 H63.9 V669.6 H69.6 V684.3 H71.4 V699.1 H74.7 V713.8" fill="none" stroke="#b27c32" stroke-width="1.3" stroke-linejoin="miter" />
<path d="M54.2,610.6 H54.40 V612.80 H54.60 V615.00 H54.80 V617.20 H55.00 V619.40 H56.60 V622.20 H57.20 V624.85 H57.80 V627.50 H57.86 V629.79 H57.91 V632.07 H57.97 V634.36 H58.03 V636.64 H58.09 V638.93 H58.14 V641.21 H58.20 V643.50 H59.80 V645.90 H60.10 V648.10 H60.40 V650.30 H60.70 V652.50 H61.00 V654.70 H61.27 V656.80 H61.55 V658.90 H62.12 V661.06 H62.69 V663.22 H63.26 V665.38 H63.83 V667.54 H64.40 V669.70 H66.20 V672.50 H67.60 V674.35 H69.00 V676.20 H69.36 V678.55 H69.72 V680.90 H70.09 V683.25 H70.45 V685.60 H71.15 V687.55 H71.85 V689.50 L90.4,689.5 L90.4,696 L96.5,696 L96.5,701.25 L118.5,701.25 L118.5,713.6" fill="none" stroke="#3b1d5e" stroke-width="1.5" stroke-linejoin="miter" />
<text x="239.6" y="578.75" font-size="13.0" fill="#000" stroke="#000" stroke-width="0.55" font-weight="bold">H</text>
<rect x="290" y="585.75" width="129.75" height="16" fill="#c60325"/>
<text x="294.75" y="598.15" font-size="9.8" fill="#fbeaec" textLength="122.15" lengthAdjust="spacingAndGlyphs"><tspan font-style="italic">TP53</tspan><tspan font-size="6.5" dy="-3.0">mut</tspan><tspan dy="3.0"> </tspan>with BM blast 0–9%</text>
<line x1="286.4" y1="604" x2="286.4" y2="719.55" stroke="#1c1c1c" stroke-width="1.5"/>
<line x1="282.79999999999995" y1="610.8" x2="286.4" y2="610.8" stroke="#1c1c1c" stroke-width="0.9"/>
<text x="279.4" y="613.3" font-size="7.2" text-anchor="end" stroke="#2b2b2b" stroke-width="0.13">100</text>
<line x1="282.79999999999995" y1="636.55" x2="286.4" y2="636.55" stroke="#1c1c1c" stroke-width="0.9"/>
<text x="279.4" y="639.05" font-size="7.2" text-anchor="end" stroke="#2b2b2b" stroke-width="0.13">75</text>
<line x1="282.79999999999995" y1="662.3" x2="286.4" y2="662.3" stroke="#1c1c1c" stroke-width="0.9"/>
<text x="279.4" y="664.8" font-size="7.2" text-anchor="end" stroke="#2b2b2b" stroke-width="0.13">50</text>
<line x1="282.79999999999995" y1="688.05" x2="286.4" y2="688.05" stroke="#1c1c1c" stroke-width="0.9"/>
<text x="279.4" y="690.55" font-size="7.2" text-anchor="end" stroke="#2b2b2b" stroke-width="0.13">25</text>
<line x1="282.79999999999995" y1="713.8" x2="286.4" y2="713.8" stroke="#1c1c1c" stroke-width="0.9"/>
<text x="279.4" y="716.3" font-size="7.2" text-anchor="end" stroke="#2b2b2b" stroke-width="0.13">0</text>
<line x1="285.65" y1="718.8" x2="423.6" y2="718.8" stroke="#1c1c1c" stroke-width="1.5"/>
<line x1="292.4" y1="718.8" x2="292.4" y2="722.3" stroke="#333" stroke-width="1.2"/>
<text x="292.4" y="731.8" font-size="7.2" text-anchor="middle" stroke="#2b2b2b" stroke-width="0.13">0</text>
<line x1="318.09999999999997" y1="718.8" x2="318.09999999999997" y2="722.3" stroke="#333" stroke-width="1.2"/>
<text x="318.09999999999997" y="731.8" font-size="7.2" text-anchor="middle" stroke="#2b2b2b" stroke-width="0.13">12</text>
<line x1="343.79999999999995" y1="718.8" x2="343.79999999999995" y2="722.3" stroke="#333" stroke-width="1.2"/>
<text x="343.79999999999995" y="731.8" font-size="7.2" text-anchor="middle" stroke="#2b2b2b" stroke-width="0.13">24</text>
<line x1="369.5" y1="718.8" x2="369.5" y2="722.3" stroke="#333" stroke-width="1.2"/>
<text x="369.5" y="731.8" font-size="7.2" text-anchor="middle" stroke="#2b2b2b" stroke-width="0.13">36</text>
<line x1="395.2" y1="718.8" x2="395.2" y2="722.3" stroke="#333" stroke-width="1.2"/>
<text x="395.2" y="731.8" font-size="7.2" text-anchor="middle" stroke="#2b2b2b" stroke-width="0.13">48</text>
<line x1="420.9" y1="718.8" x2="420.9" y2="722.3" stroke="#333" stroke-width="1.2"/>
<text x="420.9" y="731.8" font-size="7.2" text-anchor="middle" stroke="#2b2b2b" stroke-width="0.13">60</text>
<text x="304.3" y="745.3" font-size="9.4" stroke="#2b2b2b" stroke-width="0.2" textLength="102.8" lengthAdjust="spacingAndGlyphs">Time since diagnosis (months)</text>
<text x="0" y="0" font-size="9.4" stroke="#2b2b2b" stroke-width="0.2" text-anchor="middle" textLength="64.3" lengthAdjust="spacingAndGlyphs" transform="translate(261.3,661.6) rotate(-90)">Overall survival (%)</text>
<line x1="311.25" y1="623.25" x2="325" y2="623.25" stroke="#3b1d5e" stroke-width="1.6"/>
<text x="328.75" y="625.35" font-size="6.8" stroke="#2b2b2b" stroke-width="0.13" textLength="25" lengthAdjust="spacingAndGlyphs">Multi-hit</text>
<line x1="311.25" y1="632.5" x2="325" y2="632.5" stroke="#b27c32" stroke-width="1.6"/>
<text x="328.75" y="634.6" font-size="6.8" stroke="#2b2b2b" stroke-width="0.13" textLength="28.25" lengthAdjust="spacingAndGlyphs">Single-hit</text>
<text x="363.75" y="615.1" font-size="6.8" stroke="#2b2b2b" stroke-width="0.13">N</text>
<text x="380.5" y="615.1" font-size="6.8" stroke="#2b2b2b" stroke-width="0.13">Events</text>
<text x="406.6" y="615.1" font-size="6.8" stroke="#2b2b2b" stroke-width="0.13" textLength="23.5" lengthAdjust="spacingAndGlyphs">Median</text>
<text x="435" y="615.1" font-size="6.8" stroke="#2b2b2b" stroke-width="0.13" textLength="25.4" lengthAdjust="spacingAndGlyphs">(95% CI)</text>
<text x="363.75" y="625.9" font-size="6.8" stroke="#2b2b2b" stroke-width="0.13">56</text>
<text x="380.5" y="625.9" font-size="6.8" stroke="#2b2b2b" stroke-width="0.13">52</text>
<text x="406.6" y="625.9" font-size="6.8" stroke="#2b2b2b" stroke-width="0.13">9.90</text>
<text x="435" y="625.9" font-size="6.8" stroke="#2b2b2b" stroke-width="0.13" textLength="29.8" lengthAdjust="spacingAndGlyphs">(8.8–14.2)</text>
<text x="363.75" y="635.4" font-size="6.8" stroke="#2b2b2b" stroke-width="0.13">10</text>
<text x="380.5" y="635.4" font-size="6.8" stroke="#2b2b2b" stroke-width="0.13">9</text>
<text x="406.6" y="635.4" font-size="6.8" stroke="#2b2b2b" stroke-width="0.13">8.87</text>
<text x="435" y="635.4" font-size="6.8" stroke="#2b2b2b" stroke-width="0.13" textLength="26.6" lengthAdjust="spacingAndGlyphs">(1.6–NA)</text>
<text x="361.9" y="668.1" font-size="8.9" stroke="#2b2b2b" stroke-width="0.2" textLength="26.2" lengthAdjust="spacingAndGlyphs"><tspan font-style="italic">P</tspan> = 1.0</text>
<path d="M293,611.25 V621.25 H296.1 V642.1 H304.9 V652.25 H308.6 V662.75 H313.75 V673.1 H320.25 V683.1 H342.75 V693.1 H359.4 V704.4" fill="none" stroke="#b27c32" stroke-width="1.3" stroke-linejoin="miter" />
<path d="M293,611.25 H293.63 V613.33 H294.27 V615.42 H294.90 V617.50 H296.75 V620.60 L300.5,620.6 L300.5,627.5 H301.45 V629.38 H302.40 V631.25 H304.90 V634.40 H305.73 V636.68 H306.57 V638.97 H307.40 V641.25 H308.43 V643.75 H309.47 V646.25 H310.50 V648.75 H311.53 V651.25 H312.57 V653.75 H313.60 V656.25 H314.03 V658.33 H314.47 V660.42 H314.90 V662.50 H315.90 V664.70 H316.90 V666.90 H317.52 V668.77 H318.13 V670.63 H318.75 V672.50 H320.00 V674.70 H321.25 V676.90 H322.82 V678.75 H324.40 V680.60 H324.70 V682.50 H325.00 V684.40 H328.75 V685.00 H329.68 V686.88 H330.60 V688.75 H331.90 V691.90 H336.25 V694.40 H341.25 V695.60 H343.12 V697.50 H345.00 V699.40 H347.50 V701.90 H350.60 V704.40 L373.15,704.4 L373.15,708.8 L409.3,708.8 L409.3,713.4" fill="none" stroke="#3b1d5e" stroke-width="1.5" stroke-linejoin="miter" />
</svg>
</body></html>
